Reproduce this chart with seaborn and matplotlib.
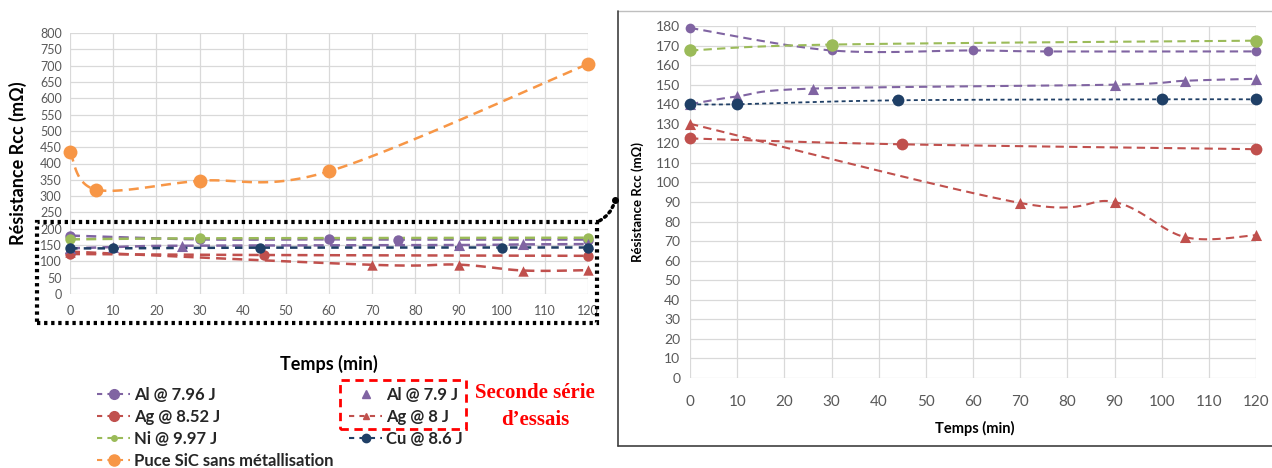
import numpy as np
import pandas as pd
import seaborn as sns
import matplotlib.pyplot as plt
from matplotlib.lines import Line2D
from matplotlib.patches import Rectangle, FancyArrowPatch

# Series (time in min, resistance in mOhm)
t_al796 = [0, 30, 60, 76, 120]
r_al796 = [179, 167.5, 167.5, 167, 167]
t_ag852 = [0, 45, 120]
r_ag852 = [122.5, 119.5, 117]
t_ni = [0, 30, 120]
r_ni = [167.5, 170.5, 172.5]
t_puce = [0, 6, 30, 60, 120]
r_puce = [435, 320, 347, 376, 705]
t_al79 = [0, 10, 26, 90, 105, 120]
r_al79 = [140, 144, 148, 150, 152, 153]
t_ag8 = [0, 70, 90, 105, 120]
r_ag8 = [130, 89.5, 90, 72, 73]
t_cu = [0, 10, 44, 100, 120]
r_cu = [140, 140, 142, 142.5, 142.5]

left_yticks = list(range(0, 801, 50))
right_yticks = list(range(0, 181, 10))
xticks = list(range(0, 121, 10))

PURPLE, RED, GREEN, ORANGE, NAVY = '#8064A2', '#C0504D', '#9BBB59', '#F79646', '#1F3F66'
TICK = '#595959'
GRID = '#D9D9D9'

sns.set_theme(style='white')
plt.rcParams['font.family'] = ['Lato', 'DejaVu Sans']

W, H = 1272, 468
fig = plt.figure(figsize=(W / 100, H / 100), dpi=100)


def fax(x0, y0, x1, y1):
    """pixel box -> figure axes rect"""
    return [x0 / W, 1 - y1 / H, (x1 - x0) / W, (y1 - y0) / H]


def smooth(ax, xs, ys, n=30):
    """Excel-like smoothed line (Catmull-Rom in screen space)"""
    pts = ax.transData.transform(np.column_stack([xs, ys]))
    p = np.vstack([pts[0], pts, pts[-1]])
    out = []
    s = np.linspace(0, 1, n)[:, None]
    for i in range(1, len(p) - 2):
        p0, p1, p2, p3 = p[i - 1], p[i], p[i + 1], p[i + 2]
        c1 = p1 + (p2 - p0) / 6
        c2 = p2 - (p3 - p1) / 6
        seg = ((1 - s) ** 3) * p1 + 3 * ((1 - s) ** 2) * s * c1 + 3 * (1 - s) * s ** 2 * c2 + s ** 3 * p2
        out.append(seg)
    out = np.vstack(out)
    return ax.transData.inverted().transform(out)


def series(ax, xs, ys, color, marker, size, dashes=(4, 2.5), lw=1.5):
    curve = smooth(ax, xs, ys)
    df_c = pd.DataFrame({'t': curve[:, 0], 'r': curve[:, 1]})
    sns.lineplot(data=df_c, x='t', y='r', sort=False, estimator=None, ax=ax,
                 color=color, lw=lw, dashes=False, zorder=3)
    ax.lines[-1].set_dashes(dashes)
    ax.lines[-1].set_clip_on(False)
    df_p = pd.DataFrame({'t': xs, 'r': ys})
    sns.scatterplot(data=df_p, x='t', y='r', ax=ax, color=color, marker=marker,
                    s=size ** 2, linewidth=0, zorder=4, clip_on=False, legend=False)


def style_axes(ax, ymax, yticks, fs_x, fs_y, padx, pady):
    ax.set_xlim(0, 120)
    ax.set_ylim(0, ymax)
    ax.set_xticks(xticks)
    ax.set_yticks(yticks)
    ax.grid(True, color=GRID, lw=0.9)
    for sp in ax.spines.values():
        sp.set_visible(False)
    ax.tick_params(axis='x', length=0, pad=padx, labelsize=fs_x, labelcolor=TICK)
    ax.tick_params(axis='y', length=0, pad=pady, labelsize=fs_y, labelcolor=TICK)
    ax.set_facecolor('none')


# ---------- left chart ----------
axl = fig.add_axes(fax(70, 33, 588, 294))
style_axes(axl, 800, left_yticks, 9, 9, 8, 6)
series(axl, t_al796, r_al796, PURPLE, 'o', 7.5, lw=1.8)
series(axl, t_ag852, r_ag852, RED, 'o', 7.5, lw=1.8)
series(axl, t_ni, r_ni, GREEN, 'o', 7.5, lw=1.8)
series(axl, t_puce, r_puce, ORANGE, 'o', 10, lw=1.8)
series(axl, t_al79, r_al79, PURPLE, '^', 8, lw=1.8)
series(axl, t_ag8, r_ag8, RED, '^', 7.5, lw=1.8)
series(axl, t_cu, r_cu, NAVY, 'o', 7.5, dashes=(3, 2.5), lw=1.8)
axl.set_xlabel('Temps (min)', fontsize=13, fontweight='bold', color='black')
axl.set_ylabel('Résistance Rcc (mΩ)', fontsize=13, fontweight='bold', color='black')
axl.xaxis.set_label_coords(0.5, -0.234)
axl.yaxis.set_label_coords(-0.083, 0.5)

# ---------- right chart ----------
axr = fig.add_axes(fax(690, 26, 1256, 378))
style_axes(axr, 180, right_yticks, 11, 10, 12, 7)
series(axr, t_al796, r_al796, PURPLE, 'o', 7)
series(axr, t_ag852, r_ag852, RED, 'o', 8.5)
series(axr, t_ni, r_ni, GREEN, 'o', 9)
series(axr, t_al79, r_al79, PURPLE, '^', 8)
series(axr, t_ag8, r_ag8, RED, '^', 8)
series(axr, t_cu, r_cu, NAVY, 'o', 8.5, dashes=(2.2, 1.8), lw=1.3)
axr.set_xlabel('Temps (min)', fontsize=10.5, fontweight='bold', color='black')
axr.set_ylabel('Résistance Rcc (mΩ)', fontsize=9.5, fontweight='bold', color='black')
axr.xaxis.set_label_coords(0.503, -0.122)
axr.yaxis.set_label_coords(-0.081, 0.5)

# frame around the zoomed chart
fig.add_artist(Line2D([618 / W, 1], [1 - 11 / H] * 2, color='#BFBFBF', lw=1))
fig.add_artist(Line2D([618 / W] * 2, [1 - 11 / H, 1 - 446 / H], color='#404040', lw=1.2))
fig.add_artist(Line2D([618 / W, 1], [1 - 446 / H] * 2, color='#404040', lw=1.2))

# dotted zoom box and connector
fig.add_artist(Rectangle((37 / W, 1 - 323 / H), 560 / W, 101 / H, fill=False,
                         ec='black', lw=3, ls=(0, (0.8, 0.9)), transform=fig.transFigure))
fig.add_artist(FancyArrowPatch((597 / W, 1 - 222 / H), (615 / W, 1 - 200 / H),
                               connectionstyle='arc3,rad=0.25', arrowstyle='-',
                               ls=(0, (0.6, 1.2)), lw=2.5, color='black',
                               transform=fig.transFigure))
fig.add_artist(Line2D([615 / W], [1 - 200 / H], marker='o', ms=4, color='black'))


# legend
def h(color, marker, ms, line=True, dashes=(2.5, 2.5)):
    return Line2D([], [], color=color, marker=marker, ms=ms, lw=1.5 if line else 0,
                  ls=(0, dashes) if line else 'None')


leg_prop = {'family': ['Lato', 'DejaVu Sans'], 'weight': 'bold', 'size': 12}
leg_kw = dict(loc='upper left', frameon=False, handlelength=2.0, handletextpad=0.2,
              labelspacing=0.36, prop=leg_prop)

handles_a = [h(PURPLE, 'o', 7), h(RED, 'o', 7), h(GREEN, 'o', 4), h(ORANGE, 'o', 8)]
labels_a = ['Al @ 7.96 J', 'Ag @ 8.52 J', 'Ni @ 9.97 J', 'Puce SiC sans métallisation']
fig.legend(handles_a, labels_a, bbox_to_anchor=(82 / W, 1 - 372 / H), **leg_kw)

handles_b = [h(PURPLE, '^', 6, line=False), h(RED, '^', 5), h(NAVY, 'o', 6)]
labels_b = ['Al @ 7.9 J', 'Ag @ 8 J', 'Cu @ 8.6 J']
fig.legend(handles_b, labels_b, bbox_to_anchor=(334 / W, 1 - 372 / H), **leg_kw)

fig.add_artist(Rectangle((340 / W, 1 - 429 / H), 126 / W, 49 / H, fill=False,
                         ec='#FF0000', lw=2, ls=(0, (3, 2)), transform=fig.transFigure))
fig.text(535 / W, 1 - 393 / H, 'Seconde série', color='#FF0000', fontsize=15,
         fontweight='bold', family='Liberation Serif', ha='center', va='center')
fig.text(535 / W, 1 - 420 / H, 'd\u2019essais', color='#FF0000', fontsize=15,
         fontweight='bold', family='Liberation Serif', ha='center', va='center')

fig.savefig('out.png', dpi=100)
